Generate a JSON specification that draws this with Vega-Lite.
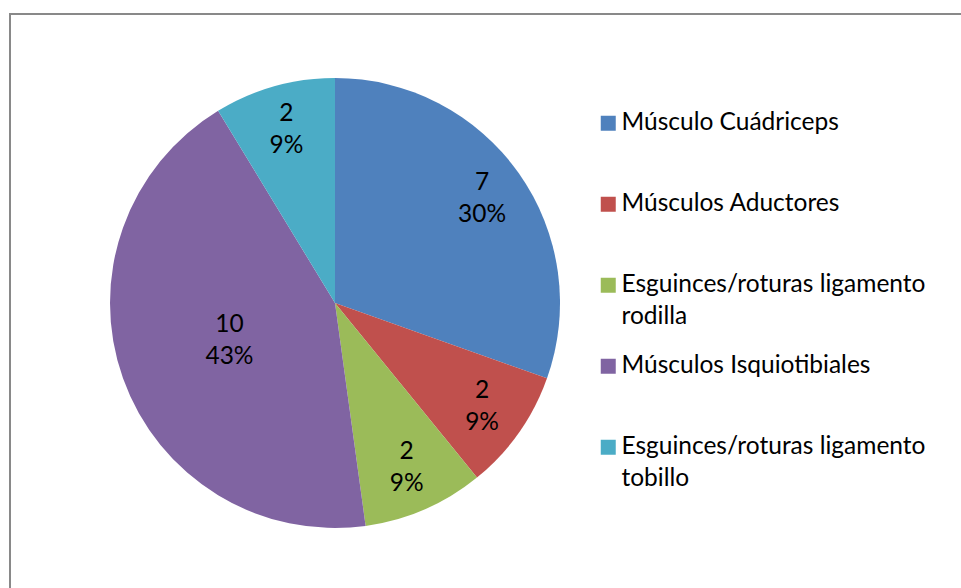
{
  "$schema": "https://vega.github.io/schema/vega-lite/v6.json",
  "width": 1000,
  "height": 600,
  "autosize": {"type": "none"},
  "padding": {"left": 10, "top": 14, "right": 0, "bottom": 0},
  "background": "white",
  "view": {"stroke": "#898989", "strokeWidth": 2},
  "config": {
    "view": {"stroke": "#898989", "strokeWidth": 2},
    "style": {"guide-label": {"lineHeight": 32}}
  },
  "data": {
    "values": [
      {"cat": "Músculo Cuádriceps", "n": 7, "pct": "30%", "o": 1},
      {"cat": "Músculos Aductores", "n": 2, "pct": "9%", "o": 2},
      {"cat": "Esguinces/roturas ligamento rodilla", "n": 2, "pct": "9%", "o": 3},
      {"cat": "Músculos Isquiotibiales", "n": 10, "pct": "43%", "o": 4},
      {"cat": "Esguinces/roturas ligamento tobillo", "n": 2, "pct": "9%", "o": 5}
    ]
  },
  "transform": [
    {"calculate": "[toString(datum.n), datum.pct]", "as": "lbl"}
  ],
  "encoding": {
    "theta": {"field": "n", "type": "quantitative", "stack": true},
    "order": {"field": "o", "type": "quantitative"}
  },
  "layer": [
    {
      "mark": {"type": "arc", "x": 325, "y": 289, "outerRadius": 225, "stroke": null},
      "encoding": {
        "color": {
          "field": "cat",
          "type": "nominal",
          "scale": {
            "domain": ["Músculo Cuádriceps", "Músculos Aductores", "Esguinces/roturas ligamento rodilla", "Músculos Isquiotibiales", "Esguinces/roturas ligamento tobillo"],
            "range": ["#4F81BD", "#C0504D", "#9BBB59", "#8064A2", "#4BACC6"]
          },
          "legend": {
            "title": null,
            "orient": "none",
            "legendX": 586,
            "legendY": 97,
            "direction": "vertical",
            "symbolType": "square",
            "symbolSize": 225,
            "symbolStrokeWidth": 0,
            "symbolOpacity": 1,
            "labelFont": "Lato",
            "labelFontSize": 24.5,
            "labelColor": "#000000",
            "labelLimit": 500,
            "labelOffset": 1,
            "rowPadding": 24,
            "labelExpr": "datum.label == 'Esguinces/roturas ligamento rodilla' ? ['Esguinces/roturas ligamento', 'rodilla'] : datum.label == 'Esguinces/roturas ligamento tobillo' ? ['Esguinces/roturas ligamento', 'tobillo'] : [datum.label, '']"
          }
        }
      }
    },
    {
      "mark": {"type": "text", "x": 325, "y": 289, "dy": -16, "radius": {"expr": "datum.o == 4 ? 112 : 180"}, "font": "Lato", "fontSize": 24.5, "lineHeight": 32, "color": "#000000", "align": "center", "baseline": "middle"},
      "encoding": {
        "text": {"field": "lbl", "type": "nominal"}
      }
    }
  ]
}
